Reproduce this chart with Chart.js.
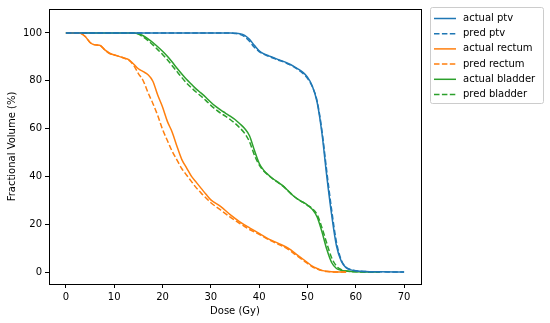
<!DOCTYPE html>
<html>
<head>
<meta charset="utf-8">
<script src="https://cdn.jsdelivr.net/npm/chart.js@4.4.1/dist/chart.umd.min.js"></script>
<style>
  html, body { margin: 0; padding: 0; background: #fff; }
  #wrap { width: 550px; height: 323px; position: relative; }
</style>
</head>
<body>
<div id="wrap"><canvas id="dvhChart" width="550" height="323"></canvas></div>
<script>
/* 눈금 */
const xTicks = [0, 10, 20, 30, 40, 50, 60, 70];
const yTicks = [0, 20, 40, 60, 80, 100];

/* PTV */
const ptvDose = [0, 10, 20, 30, 34, 35, 36, 37, 38, 39, 40, 41, 42, 43, 44, 45, 46, 47, 48, 49, 50, 51, 52, 53, 54, 55, 56, 57, 58, 59, 60, 62, 65, 70];
const actualPtv = [100, 100, 100, 100, 100, 99.9, 99.7, 99, 97.3, 94.8, 92.5, 91.2, 90.4, 89.6, 88.8, 88.1, 87.2, 86.2, 85, 83.6, 81.5, 77.8, 71, 58, 40, 24, 11, 4.5, 1.8, 0.9, 0.5, 0.2, 0.1, 0];
const predPtv = [100, 100, 100, 100, 100, 99.8, 99.4, 98.4, 96.5, 94, 92.2, 91, 90.2, 89.4, 88.6, 87.9, 87, 86, 84.7, 83.2, 81, 77.5, 71.5, 59, 42, 26, 12.5, 5, 2, 1, 0.5, 0.2, 0.1, 0];

/* Rectum */
const rectumDose = [0, 1, 2, 3, 4, 5, 6, 7, 8, 9, 10, 11, 12, 13, 14, 15, 16, 17, 18, 19, 20, 21, 22, 23, 24, 25, 26, 27, 28, 29, 30, 32, 34, 36, 38, 40, 42, 44, 46, 48, 50, 51, 52, 53, 54, 55, 56, 58];
const actualRectum = [100, 100, 100, 99.8, 98.5, 96, 95, 94.8, 93, 91.5, 90.8, 90.2, 89.5, 88.8, 87, 85, 83.8, 82.5, 79.8, 74, 69, 63, 58.5, 52.5, 47, 43.5, 40, 37.5, 35, 32.5, 30.2, 27.5, 24, 21, 18.5, 16.2, 13.8, 12, 10, 7, 4, 2.5, 1.5, 0.7, 0.3, 0.1, 0, 0];
const predRectum = [100, 100, 100, 99.8, 98.5, 96, 95, 94.8, 93, 91.5, 90.8, 90.2, 89.5, 88.6, 86.5, 83, 80, 75, 70.5, 65.5, 59.7, 55, 50.5, 46.8, 43.2, 40.5, 37.8, 35.2, 33, 31, 29, 26, 23, 20.3, 17.8, 15.8, 13.5, 11.6, 9.5, 6.5, 3.6, 2.2, 1.3, 0.6, 0.2, 0.1, 0, 0];

/* Bladder */
const bladderDose = [0, 5, 10, 13, 14, 15, 16, 17, 18, 19, 20, 21, 22, 23, 24, 25, 26, 27, 28, 29, 30, 31, 32, 33, 34, 35, 36, 37, 38, 39, 40, 41, 42, 43, 44, 45, 46, 47, 48, 49, 50, 51, 52, 53, 54, 55, 56, 57, 58, 60, 65];
const actualBladder = [100, 100, 100, 100, 100, 99.7, 98.8, 97.5, 96, 94.2, 92.3, 90.2, 87.8, 85.2, 82.8, 80.5, 78.5, 76.5, 74.8, 73, 71, 69.3, 67.8, 66.5, 65.2, 63.8, 62, 60, 57, 51, 45.5, 42.4, 40.5, 38.8, 37.4, 35.9, 34, 32, 30.5, 29.3, 28, 26.2, 23, 16.8, 9.5, 4, 1.5, 0.7, 0.4, 0.1, 0];
const predBladder = [100, 100, 100, 100, 100, 99.5, 98.3, 96.8, 95, 93, 91, 88.8, 86.3, 83.8, 81.3, 79, 77, 75.2, 73.5, 71.7, 69.7, 68, 66.5, 65.2, 63.8, 62.2, 60.3, 58, 54.5, 49, 44.8, 42.1, 40.3, 38.7, 37.3, 35.8, 33.9, 32, 30.4, 29.2, 27.9, 26.5, 24, 18.5, 12, 6, 2.5, 1, 0.4, 0.1, 0];

const BLUE = "#1f77b4";
const ORANGE = "#ff7f0e";
const GREEN = "#2ca02c";
const DASH = [5.5, 2.4];
const FONT = "'DejaVu Sans', sans-serif";

function toPoints(xs, ys) {
  return xs.map((x, i) => ({ x: x, y: ys[i] }));
}

function makeLine(label, xs, ys, color, dashed) {
  return {
    label: label,
    data: toPoints(xs, ys),
    borderColor: color,
    backgroundColor: color,
    borderWidth: 1.5,
    borderDash: dashed ? DASH : [],
    pointRadius: 0,
    fill: false,
    cubicInterpolationMode: "monotone",
  };
}

/* 축 테두리 + 범례 */
const framePlugin = {
  id: "frame",
  afterDraw(chart) {
    const ctx = chart.ctx;
    const a = chart.chartArea;
    ctx.save();
    ctx.strokeStyle = "#000";
    ctx.lineWidth = 1;
    ctx.setLineDash([]);
    ctx.strokeRect(Math.round(a.left) + 0.5, Math.round(a.top) + 0.5,
      Math.round(a.right - a.left), Math.round(a.bottom - a.top));

    // legend box
    const lx = 430.5, ly = 7.5, lw = 113, lh = 96;
    ctx.fillStyle = "rgba(255,255,255,0.8)";
    ctx.strokeStyle = "#cccccc";
    ctx.lineWidth = 1;
    ctx.beginPath();
    ctx.roundRect ? ctx.roundRect(lx, ly, lw, lh, 2) : ctx.rect(lx, ly, lw, lh);
    ctx.fill();
    ctx.stroke();

    ctx.font = "10px " + FONT;
    ctx.textBaseline = "middle";
    ctx.textAlign = "left";
    chart.data.datasets.forEach((ds, i) => {
      const y = 18.5 + i * 15.2;
      ctx.strokeStyle = ds.borderColor;
      ctx.lineWidth = 1.5;
      ctx.setLineDash(ds.borderDash);
      ctx.beginPath();
      ctx.moveTo(434, y);
      ctx.lineTo(456, y);
      ctx.stroke();
      ctx.setLineDash([]);
      ctx.fillStyle = "#000";
      ctx.fillText(ds.label, 463, y);
    });
    ctx.restore();
  },
};

const chartElement = document.getElementById("dvhChart");

new Chart(chartElement, {
  type: "line",
  data: {
    datasets: [
      makeLine("actual ptv", ptvDose, actualPtv, BLUE, false),
      makeLine("pred ptv", ptvDose, predPtv, BLUE, true),
      makeLine("actual rectum", rectumDose, actualRectum, ORANGE, false),
      makeLine("pred rectum", rectumDose, predRectum, ORANGE, true),
      makeLine("actual bladder", bladderDose, actualBladder, GREEN, false),
      makeLine("pred bladder", bladderDose, predBladder, GREEN, true),
    ],
  },
  options: {
    responsive: false,
    animation: false,
    layout: { padding: { left: 0, right: 129, top: 7, bottom: 0 } },
    plugins: {
      legend: { display: false },
      tooltip: { enabled: false },
    },
    scales: {
      x: {
        type: "linear",
        min: -3.5,
        max: 73.5,
        afterBuildTicks: (scale) => {
          scale.ticks = xTicks.map((v) => ({ value: v }));
        },
        afterFit: (scale) => {
          scale.height = 39;
        },
        grid: { display: true, drawOnChartArea: false, drawTicks: true, tickLength: 4, color: "#000", lineWidth: 1 },
        border: { display: true, color: "#000", width: 1 },
        ticks: { color: "#000", font: { family: FONT, size: 10 }, padding: 3, maxRotation: 0 },
        title: { display: true, text: "Dose (Gy)", color: "#000", font: { family: FONT, size: 10 }, padding: { top: 0, bottom: 6 } },
      },
      y: {
        type: "linear",
        min: -5,
        max: 110,
        afterBuildTicks: (scale) => {
          scale.ticks = yTicks.map((v) => ({ value: v }));
        },
        afterFit: (scale) => {
          scale.width = 49;
        },
        grid: { display: true, drawOnChartArea: false, drawTicks: true, tickLength: 4, color: "#000", lineWidth: 1 },
        border: { display: true, color: "#000", width: 1 },
        ticks: { color: "#000", font: { family: FONT, size: 10 }, padding: 3 },
        title: { display: true, text: "Fractional Volume (%)", color: "#000", font: { family: FONT, size: 10 }, padding: { top: 6, bottom: 0 } },
      },
    },
  },
  plugins: [framePlugin],
});
</script>
</body>
</html>
